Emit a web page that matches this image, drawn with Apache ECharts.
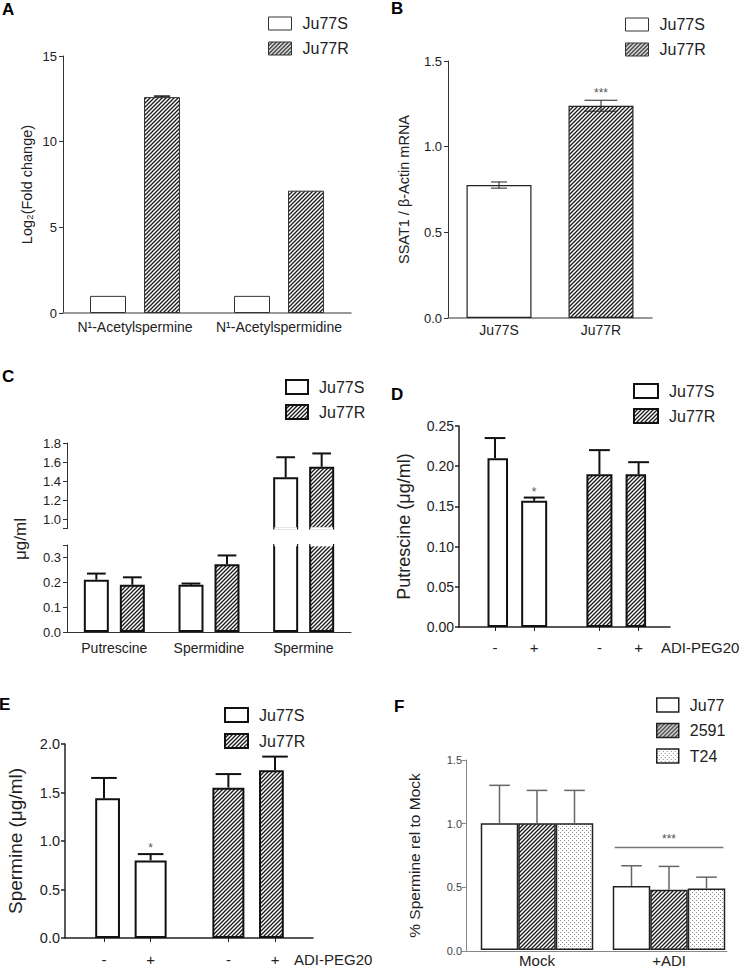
<!DOCTYPE html>
<html>
<head>
<meta charset="utf-8">
<script src="https://cdn.jsdelivr.net/npm/echarts@6.0.0/dist/echarts.min.js"></script>
<style>
html,body{margin:0;padding:0;background:#ffffff;}
#chart{width:743px;height:968px;}
</style>
</head>
<body>
<div id="chart"></div>
<script>
// ---------------- DATA ----------------
// Panel A
const aCategories = ['N¹-Acetylspermine', 'N¹-Acetylspermidine'];
const aJu77S = [1.0, 1.0];
const aJu77SErr = [0, 0];
const aJu77R = [12.6, 7.14];
const aJu77RErr = [0.06, 0];
// Panel B
const bCategories = ['Ju77S', 'Ju77R'];
const bValues = [0.776, 1.239];
const bErrors = [0.018, 0.032];
const bStars = ['', '***'];
// Panel C
const cCategories = ['Putrescine', 'Spermidine', 'Spermine'];
const cJu77S = [0.21, 0.19, 1.44];
const cJu77SErr = [0.025, 0.005, 0.21];
const cJu77R = [0.19, 0.273, 1.55];
const cJu77RErr = [0.03, 0.035, 0.14];
const cUpperLabels = [1.0, 1.2, 1.4, 1.6, 1.8];
const cLowerLabels = [0, 0.1, 0.2, 0.3];
// Panel D
const dTreatment = ['-', '+', '-', '+'];
const dJu77S = [0.21, 0.157];
const dJu77SErr = [0.025, 0.004];
const dJu77R = [0.19, 0.19];
const dJu77RErr = [0.03, 0.015];
const dStars = ['', '*', '', ''];
// Panel E
const eTreatment = ['-', '+', '-', '+'];
const eJu77S = [1.44, 0.80];
const eJu77SErr = [0.21, 0.065];
const eJu77R = [1.55, 1.73];
const eJu77RErr = [0.14, 0.14];
const eStars = ['', '*', '', ''];
// Panel F
const fCategories = ['Mock', '+ADI'];
const fJu77 = [1.0, 0.505];
const fJu77Err = [0.30, 0.16];
const f2591 = [1.0, 0.475];
const f2591Err = [0.26, 0.185];
const fT24 = [1.0, 0.485];
const fT24Err = [0.26, 0.09];
const fSigLevel = 0.81;
const fSigLabel = '***';

// ---------------- STYLE / LAYOUT HELPERS ----------------
const FONT = '"Liberation Sans", Arial, Helvetica, sans-serif';
const SLOT = [0, 3, 8, 11];   // slot layout of the 4 treatment bars in D/E
const NSLOT = 12;

function makeHatch() {
  const s = 4, c = document.createElement('canvas');
  c.width = s; c.height = s;
  const g = c.getContext('2d');
  g.fillStyle = '#ffffff'; g.fillRect(0, 0, s, s);
  g.strokeStyle = '#1a1a1a'; g.lineWidth = 1.3;
  g.beginPath();
  g.moveTo(-1, s + 1); g.lineTo(s + 1, -1);
  g.moveTo(-1, 1); g.lineTo(1, -1);
  g.moveTo(s - 1, s + 1); g.lineTo(s + 1, s - 1);
  g.stroke();
  return c;
}
function makeDots() {
  const s = 4, c = document.createElement('canvas');
  c.width = s; c.height = s;
  const g = c.getContext('2d');
  g.fillStyle = '#ffffff'; g.fillRect(0, 0, s, s);
  g.fillStyle = '#8a8a8a';
  g.fillRect(0, 0, 1, 1); g.fillRect(2, 2, 1, 1);
  return c;
}
const HATCH = {image: makeHatch(), repeat: 'repeat'};
const DOTS = {image: makeDots(), repeat: 'repeat'};

function slotCats(labels) { const a = Array(NSLOT).fill(''); labels.forEach((l, i) => { a[SLOT[i]] = l; }); return a; }
function slotVals(vals, start) { const a = Array(NSLOT).fill('-'); vals.forEach((v, i) => { a[SLOT[start + i]] = v; }); return a; }
const showSlot = (idx, val) => val !== '';

function errorBars(axisIndex, items, st) {
  return {
    type: 'custom', xAxisIndex: axisIndex, yAxisIndex: axisIndex, z: 10, silent: true,
    data: items.map(it => [it.x, it.v, it.e]),
    encode: {x: 0, y: 1},
    renderItem: function (params, api) {
      const it = items[params.dataIndex];
      const top = api.coord([it.x, it.v + it.e]);
      const bot = api.coord([it.x, it.both ? it.v - it.e : it.v]);
      const cx = top[0] + (it.off || 0);
      const half = it.cap / 2;
      const ls = () => ({stroke: st.color, lineWidth: st.width});
      const ch = [];
      if (it.e > 0) {
        ch.push({type: 'line', shape: {x1: cx, y1: top[1], x2: cx, y2: bot[1]}, style: ls()});
        ch.push({type: 'line', shape: {x1: cx - half, y1: top[1], x2: cx + half, y2: top[1]}, style: ls()});
        if (it.both) ch.push({type: 'line', shape: {x1: cx - half, y1: bot[1], x2: cx + half, y2: bot[1]}, style: ls()});
      }
      if (it.star) {
        ch.push({type: 'text', style: {text: it.star, x: cx, y: top[1] - st.starGap, align: 'center', verticalAlign: 'bottom', fill: '#555', font: st.starSize + 'px ' + FONT}});
      }
      return {type: 'group', children: ch};
    }
  };
}

// opens the cut end of a bar at an axis break (bar continues beyond the segment)
function breakOpen(axisIndex, items, level, bw) {
  return {
    type: 'custom', xAxisIndex: axisIndex, yAxisIndex: axisIndex, z: 9, silent: true,
    data: items.map(it => [it.x, level]),
    encode: {x: 0, y: 1},
    renderItem: function (params, api) {
      const it = items[params.dataIndex];
      const p = api.coord([it.x, level]);
      const cx = p[0] + it.off;
      return {type: 'line', shape: {x1: cx - bw / 2 + 1.2, y1: p[1], x2: cx + bw / 2 - 1.2, y2: p[1]}, style: {stroke: '#ffffff', lineWidth: 2.6}};
    }
  };
}

const white = (bw, bc) => ({color: '#ffffff', borderColor: bc, borderWidth: bw});
const hatched = (bw, bc) => ({color: HATCH, borderColor: bc, borderWidth: bw});
const dotted = (bw, bc) => ({color: DOTS, borderColor: bc, borderWidth: bw});

function legendCfg(names, left, top, iw, ih, gap, bw, bc) {
  return {
    data: names, left: left, top: top, orient: 'vertical', padding: 0,
    itemWidth: iw, itemHeight: ih, itemGap: gap, icon: 'rect', selectedMode: false,
    itemStyle: {borderWidth: bw, borderColor: bc},
    formatter: n => n.slice(2),
    textStyle: {fontSize: 16, color: '#222', fontFamily: FONT, lineHeight: 14, padding: [0, 0, 0, 6]}
  };
}

function valAxis(grid, min, max, interval, fs, digits, margin, lineColor, lineW, extra) {
  return Object.assign({
    gridIndex: grid, type: 'value', min: min, max: max, interval: interval,
    splitLine: {show: false},
    axisLine: {show: true, lineStyle: {color: lineColor, width: lineW}},
    axisTick: {show: true, length: 4, lineStyle: {color: lineColor, width: lineW}},
    axisLabel: {fontSize: fs, color: '#222', margin: margin, fontFamily: FONT, formatter: v => v.toFixed(digits)}
  }, extra || {});
}
const hiddenY = (grid, min, max) => ({gridIndex: grid, type: 'value', min: min, max: max, show: false, splitLine: {show: false}});
const yName = (name, gap, fs) => ({name: name, nameLocation: 'middle', nameRotate: 90, nameGap: gap, nameTextStyle: {fontSize: fs, color: '#222', fontFamily: FONT}});

// ---------------- ERROR BAR ITEMS ----------------
const A_BW = 36, A_OFF = 27;
const aErrItems = [];
aJu77S.forEach((v, i) => aErrItems.push({x: i, v: v, e: aJu77SErr[i], off: -A_OFF, cap: A_BW * 0.45}));
aJu77R.forEach((v, i) => aErrItems.push({x: i, v: v, e: aJu77RErr[i], off: A_OFF, cap: A_BW * 0.45}));

const bCaps = [16, 33];
const bErrItems = bValues.map((v, i) => ({x: i, v: v, e: bErrors[i], both: true, cap: bCaps[i], star: bStars[i]}));

const C_BW = 25, C_OFF = 18, C_LOWMAX = 0.35, C_UPMIN = 0.9;
const cAll = [];
cJu77S.forEach((v, i) => cAll.push({x: i, v: v, e: cJu77SErr[i], off: -C_OFF, cap: C_BW * 0.75}));
cJu77R.forEach((v, i) => cAll.push({x: i, v: v, e: cJu77RErr[i], off: C_OFF, cap: C_BW * 0.75}));
const cLowItems = cAll.filter(it => it.v + it.e <= C_LOWMAX);
const cUpItems = cAll.filter(it => it.v > C_UPMIN);
const cCutItems = cAll.filter(it => it.v > C_LOWMAX);

const D_BW = 26;
const dErrItems = [];
dJu77S.forEach((v, i) => dErrItems.push({x: SLOT[i], v: v, e: dJu77SErr[i], cap: D_BW * 0.8, star: dStars[i]}));
dJu77R.forEach((v, i) => dErrItems.push({x: SLOT[2 + i], v: v, e: dJu77RErr[i], cap: D_BW * 0.8, star: dStars[2 + i]}));

const E_BW = 32;
const eErrItems = [];
eJu77S.forEach((v, i) => eErrItems.push({x: SLOT[i], v: v, e: eJu77SErr[i], cap: E_BW * 0.8, star: eStars[i]}));
eJu77R.forEach((v, i) => eErrItems.push({x: SLOT[2 + i], v: v, e: eJu77RErr[i], cap: E_BW * 0.8, star: eStars[2 + i]}));

const F_BW = 37.5;
const fErrItems = [];
[[fJu77, fJu77Err], [f2591, f2591Err], [fT24, fT24Err]].forEach((pair, s) => {
  pair[0].forEach((v, i) => fErrItems.push({x: i, v: v, e: pair[1][i], off: (s - 1) * F_BW, cap: F_BW * 0.55}));
});

// ---------------- OPTION ----------------
const option = {
  animation: false,
  backgroundColor: '#ffffff',
  textStyle: {fontFamily: FONT, color: '#222'},
  grid: [
    {left: 63, top: 56, width: 288, height: 257},        // 0 A
    {left: 448, top: 61, width: 204, height: 257},       // 1 B
    {left: 67, top: 443, width: 284, height: 85.5},      // 2 C upper
    {left: 67, top: 545, width: 284, height: 87},        // 3 C lower
    {left: 459, top: 426, width: 211, height: 201},      // 4 D frame
    {left: 488.5, top: 426, width: 156.6, height: 201},  // 5 D bars
    {left: 65, top: 744, width: 248, height: 194},       // 6 E frame
    {left: 96.2, top: 744, width: 186.6, height: 194},   // 7 E bars
    {left: 466, top: 760, width: 261, height: 191},      // 8 F frame
    {left: 471, top: 760, width: 264, height: 191}       // 9 F bars
  ],
  xAxis: [
    {gridIndex: 0, type: 'category', data: aCategories,
      axisLine: {lineStyle: {color: '#777', width: 1.5}},
      axisTick: {alignWithLabel: true, length: 4, lineStyle: {color: '#333'}},
      axisLabel: {interval: 0, fontSize: 14, color: '#222', margin: 7, fontFamily: FONT}},
    {gridIndex: 1, type: 'category', data: bCategories,
      axisLine: {lineStyle: {color: '#777', width: 1.5}},
      axisTick: {alignWithLabel: true, length: 4, lineStyle: {color: '#333'}},
      axisLabel: {interval: 0, fontSize: 14, color: '#222', margin: 5, fontFamily: FONT}},
    {gridIndex: 2, type: 'category', data: cCategories, show: false},
    {gridIndex: 3, type: 'category', data: cCategories,
      axisLine: {lineStyle: {color: '#333', width: 1}},
      axisTick: {alignWithLabel: true, length: 4, lineStyle: {color: '#333'}},
      axisLabel: {interval: 0, fontSize: 14, color: '#222', margin: 9, fontFamily: FONT}},
    {gridIndex: 4, type: 'category', data: [''],
      axisLine: {lineStyle: {color: '#222', width: 1.5}}, axisTick: {show: false}, axisLabel: {show: false},
      name: 'ADI-PEG20', nameLocation: 'end', nameGap: -9,
      nameTextStyle: {fontSize: 15, color: '#222', fontFamily: FONT, align: 'left', verticalAlign: 'top', padding: [13, 0, 0, 0]}},
    {gridIndex: 5, type: 'category', data: slotCats(dTreatment),
      axisLine: {show: false},
      axisTick: {show: true, alignWithLabel: true, interval: showSlot, length: 4, lineStyle: {color: '#222'}},
      axisLabel: {interval: showSlot, fontSize: 15, color: '#222', margin: 13, fontFamily: FONT}},
    {gridIndex: 6, type: 'category', data: [''],
      axisLine: {lineStyle: {color: '#222', width: 1.5}}, axisTick: {show: false}, axisLabel: {show: false},
      name: 'ADI-PEG20', nameLocation: 'end', nameGap: -19,
      nameTextStyle: {fontSize: 15, color: '#222', fontFamily: FONT, align: 'left', verticalAlign: 'top', padding: [14, 0, 0, 0]}},
    {gridIndex: 7, type: 'category', data: slotCats(eTreatment),
      axisLine: {show: false},
      axisTick: {show: true, alignWithLabel: true, interval: showSlot, length: 4, lineStyle: {color: '#222'}},
      axisLabel: {interval: showSlot, fontSize: 15, color: '#222', margin: 14, fontFamily: FONT}},
    {gridIndex: 8, type: 'category', data: [''],
      axisLine: {lineStyle: {color: '#888', width: 1}}, axisTick: {show: false}, axisLabel: {show: false}},
    {gridIndex: 9, type: 'category', data: fCategories,
      axisLine: {show: false}, axisTick: {show: false},
      axisLabel: {interval: 0, fontSize: 15, color: '#222', margin: 3, fontFamily: FONT}}
  ],
  yAxis: [
    valAxis(0, 0, 15, 5, 13, 0, 6, '#333', 1, yName('Log₂(Fold change)', 28.5, 14.5)),
    valAxis(1, 0, 1.5, 0.5, 13, 1, 6, '#333', 1, yName('SSAT1 / β-Actin mRNA', 36.5, 14.5)),
    valAxis(2, C_UPMIN, 1.8, null, 13, 1, 6, '#333', 1, {
      interval: undefined,
      axisTick: {show: true, length: 4, customValues: [C_UPMIN].concat(cUpperLabels), lineStyle: {color: '#333'}},
      axisLabel: {fontSize: 13, color: '#222', margin: 6, fontFamily: FONT, customValues: cUpperLabels, formatter: v => v.toFixed(1)}}),
    valAxis(3, 0, C_LOWMAX, null, 13, 1, 6, '#333', 1, {
      interval: undefined,
      axisTick: {show: true, length: 4, customValues: cLowerLabels.concat([C_LOWMAX]), lineStyle: {color: '#333'}},
      axisLabel: {fontSize: 13, color: '#222', margin: 6, fontFamily: FONT, customValues: cLowerLabels, formatter: v => v.toFixed(1)}}),
    valAxis(4, 0, 0.25, 0.05, 14, 2, 5, '#222', 1.5, yName('Putrescine (μg/ml)', 46, 18)),
    hiddenY(5, 0, 0.25),
    valAxis(6, 0, 2.0, 0.5, 14.5, 1, 5, '#222', 1.5, yName('Spermine (μg/ml)', 40.5, 19)),
    hiddenY(7, 0, 2.0),
    valAxis(8, 0, 1.5, 0.5, 11, 1, 4, '#888', 1, Object.assign(yName('% Spermine rel to Mock', 44, 15.5), {
      axisLabel: {fontSize: 11, color: '#444', margin: 4, fontFamily: FONT, formatter: v => v.toFixed(1)}})),
    hiddenY(9, 0, 1.5)
  ],
  legend: [
    legendCfg(['A:Ju77S', 'A:Ju77R'], 268, 15.5, 23, 13, 9, 1, '#333'),
    legendCfg(['B:Ju77S', 'B:Ju77R'], 625, 16.5, 23, 13, 9, 1, '#333'),
    legendCfg(['C:Ju77S', 'C:Ju77R'], 285, 379, 22, 14, 9, 2, '#111'),
    legendCfg(['D:Ju77S', 'D:Ju77R'], 633, 383, 24, 14, 9, 2, '#111'),
    legendCfg(['E:Ju77S', 'E:Ju77R'], 224, 707, 23, 14, 10, 2, '#111'),
    legendCfg(['F:Ju77', 'F:2591', 'F:T24'], 656, 697, 22, 14, 9.5, 1.5, '#222')
  ],
  graphic: [
    {type: 'text', left: 2, top: 1, style: {text: 'A', font: 'bold 17px ' + FONT, fill: '#000'}},
    {type: 'text', left: 391, top: 0, style: {text: 'B', font: 'bold 17px ' + FONT, fill: '#000'}},
    {type: 'text', left: 2, top: 368, style: {text: 'C', font: 'bold 17px ' + FONT, fill: '#000'}},
    {type: 'text', left: 391, top: 386, style: {text: 'D', font: 'bold 17px ' + FONT, fill: '#000'}},
    {type: 'text', left: -1, top: 696, style: {text: 'E', font: 'bold 17px ' + FONT, fill: '#000'}},
    {type: 'text', left: 394, top: 698, style: {text: 'F', font: 'bold 17px ' + FONT, fill: '#000'}},
    {type: 'text', x: 20, y: 539, rotation: Math.PI / 2,
      style: {text: 'μg/ml', font: '17px ' + FONT, fill: '#222', align: 'center', verticalAlign: 'middle'}}
  ],
  series: [
    // A
    {type: 'bar', name: 'A:Ju77S', xAxisIndex: 0, yAxisIndex: 0, data: aJu77S, barWidth: A_BW, barGap: '50%', itemStyle: white(1, '#333')},
    {type: 'bar', name: 'A:Ju77R', xAxisIndex: 0, yAxisIndex: 0, data: aJu77R, barWidth: A_BW, barGap: '50%', itemStyle: hatched(1, '#333')},
    errorBars(0, aErrItems, {color: '#111', width: 1.5, starGap: 2, starSize: 12}),
    // B
    {type: 'bar', name: 'B:Ju77S', xAxisIndex: 1, yAxisIndex: 1, data: bValues.map((v, i) => i === 0 ? v : '-'), barWidth: 65, barGap: '-100%', itemStyle: white(1.2, '#222')},
    {type: 'bar', name: 'B:Ju77R', xAxisIndex: 1, yAxisIndex: 1, data: bValues.map((v, i) => i === 1 ? v : '-'), barWidth: 65, barGap: '-100%', itemStyle: hatched(1.2, '#222')},
    errorBars(1, bErrItems, {color: '#222', width: 1, starGap: 1, starSize: 12}),
    // C lower
    {type: 'bar', name: 'C:Ju77S', xAxisIndex: 3, yAxisIndex: 3, data: cJu77S, barWidth: C_BW, barGap: '44%', clip: true, itemStyle: white(2, '#111')},
    {type: 'bar', name: 'C:Ju77R', xAxisIndex: 3, yAxisIndex: 3, data: cJu77R, barWidth: C_BW, barGap: '44%', clip: true, itemStyle: hatched(2, '#111')},
    errorBars(3, cLowItems, {color: '#111', width: 2, starGap: 1, starSize: 12}),
    breakOpen(3, cCutItems, C_LOWMAX, C_BW),
    // C upper
    {type: 'bar', name: 'C:Ju77S', xAxisIndex: 2, yAxisIndex: 2, data: cJu77S.map(v => v > C_UPMIN ? v : '-'), barWidth: C_BW, barGap: '44%', clip: true, itemStyle: white(2, '#111')},
    {type: 'bar', name: 'C:Ju77R', xAxisIndex: 2, yAxisIndex: 2, data: cJu77R.map(v => v > C_UPMIN ? v : '-'), barWidth: C_BW, barGap: '44%', clip: true, itemStyle: hatched(2, '#111')},
    errorBars(2, cUpItems, {color: '#111', width: 2, starGap: 1, starSize: 12}),
    breakOpen(2, cUpItems, C_UPMIN, C_BW),
    // D
    {type: 'bar', name: 'D:Ju77S', xAxisIndex: 5, yAxisIndex: 5, data: slotVals(dJu77S, 0), barWidth: D_BW, barGap: '-100%', itemStyle: white(2, '#111')},
    {type: 'bar', name: 'D:Ju77R', xAxisIndex: 5, yAxisIndex: 5, data: slotVals(dJu77R, 2), barWidth: D_BW, barGap: '-100%', itemStyle: hatched(2, '#111')},
    errorBars(5, dErrItems, {color: '#111', width: 2, starGap: 0, starSize: 12}),
    // E
    {type: 'bar', name: 'E:Ju77S', xAxisIndex: 7, yAxisIndex: 7, data: slotVals(eJu77S, 0), barWidth: E_BW, barGap: '-100%', itemStyle: white(2, '#111')},
    {type: 'bar', name: 'E:Ju77R', xAxisIndex: 7, yAxisIndex: 7, data: slotVals(eJu77R, 2), barWidth: E_BW, barGap: '-100%', itemStyle: hatched(2, '#111')},
    errorBars(7, eErrItems, {color: '#111', width: 2, starGap: 0, starSize: 12}),
    // F
    {type: 'bar', name: 'F:Ju77', xAxisIndex: 9, yAxisIndex: 9, data: fJu77, barWidth: F_BW, barGap: '0%', itemStyle: white(1.5, '#222')},
    {type: 'bar', name: 'F:2591', xAxisIndex: 9, yAxisIndex: 9, data: f2591, barWidth: F_BW, barGap: '0%', itemStyle: hatched(1.5, '#222')},
    {type: 'bar', name: 'F:T24', xAxisIndex: 9, yAxisIndex: 9, data: fT24, barWidth: F_BW, barGap: '0%', itemStyle: dotted(1.5, '#222')},
    errorBars(9, fErrItems, {color: '#666', width: 1.5, starGap: 1, starSize: 12}),
    {type: 'custom', xAxisIndex: 9, yAxisIndex: 9, z: 10, silent: true,
      data: [[fCategories.indexOf('+ADI'), fSigLevel]], encode: {x: 0, y: 1},
      renderItem: function (params, api) {
        const c = api.coord([api.value(0), api.value(1)]);
        const half = 1.45 * F_BW;
        return {type: 'group', children: [
          {type: 'line', shape: {x1: c[0] - half, y1: c[1], x2: c[0] + half, y2: c[1]}, style: {stroke: '#777', lineWidth: 1.5}},
          {type: 'text', style: {text: fSigLabel, x: c[0], y: c[1] - 2, align: 'center', verticalAlign: 'bottom', fill: '#555', font: '12px ' + FONT}}
        ]};
      }}
  ]
};

const chart = echarts.init(document.getElementById('chart'), null, {renderer: 'svg', width: 743, height: 968});
chart.setOption(option);
</script>
</body>
</html>
